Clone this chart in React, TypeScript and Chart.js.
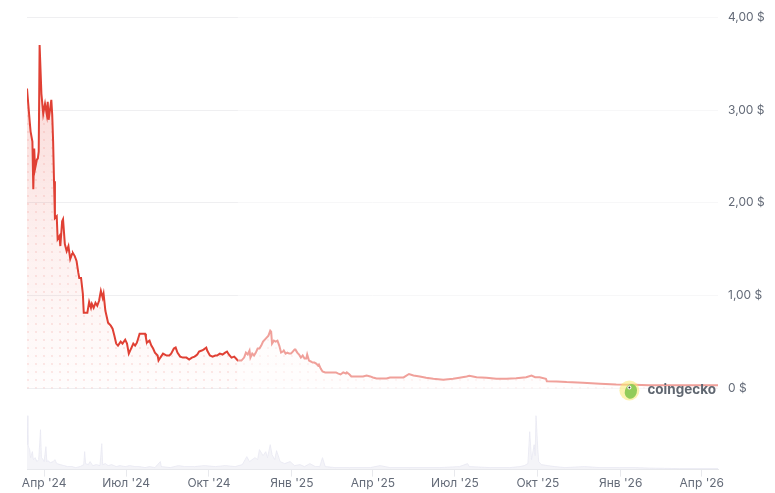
import React, { useEffect, useRef } from 'react';
import { Chart, registerables } from 'chart.js';

Chart.register(...registerables);

// day offsets are counted from START_DATE
const START_DATE = '2024-03-13';
const HIGHLIGHT_END = '2024-11-02';

const priceDays = [
  0, 3, 4, 6, 7, 8, 9, 11, 12, 13, 14, 16, 18, 20, 22, 23, 24, 27, 28, 29,
  30, 31, 33, 34, 36, 37, 39, 40, 42, 44, 46, 48, 50, 51, 53, 55, 57, 58, 60, 62,
  63, 65, 67, 69, 71, 72, 74, 76, 78, 80, 82, 84, 85, 87, 90, 93, 95, 97, 99, 101,
  104, 106, 109, 111, 113, 116, 118, 120, 122, 123, 125, 128, 131, 132, 133, 136, 138, 140, 142, 145,
  146, 148, 151, 152, 155, 158, 160, 163, 165, 167, 170, 173, 177, 180, 183, 186, 189, 191, 194, 196,
  199, 200, 203, 206, 209, 211, 214, 217, 220, 222, 224, 227, 230, 233, 234, 238, 241, 243, 245, 247,
  248, 250, 252, 254, 256, 258, 260, 262, 265, 268, 270, 271, 272, 274, 276, 278, 280, 282, 284, 285,
  287, 289, 291, 293, 295, 297, 298, 300, 302, 304, 306, 308, 310, 311, 313, 315, 317, 319, 321, 323,
  324, 326, 328, 331, 334, 338, 341, 343, 345, 348, 351, 354, 355, 358, 360, 363, 369, 373, 377, 381,
  384, 388, 392, 395, 399, 403, 410, 418, 424, 429, 436, 443, 451, 462, 473, 480, 488, 491, 499, 510,
  521, 532, 543, 554, 560, 564, 569, 576, 577, 588, 599, 617, 636, 654, 673, 691, 728, 767,
];

const prices = [
  3.231, 2.874, 2.767, 2.66, 2.145, 2.584, 2.37, 2.466, 2.477, 2.552, 3.7, 3.174, 2.96, 3.067, 2.949, 3.088, 2.895, 3.11, 2.949, 2.66,
  2.231, 1.834, 1.855, 1.609, 1.641, 1.534, 1.802, 1.823, 1.555, 1.48, 1.534, 1.394, 1.448, 1.458, 1.426, 1.373, 1.244, 1.19, 1.19, 1.019,
  0.815, 0.815, 0.815, 0.933, 0.869, 0.912, 0.869, 0.922, 0.89, 0.944, 1.051, 0.976, 1.019, 0.836, 0.708, 0.676, 0.643, 0.568, 0.483, 0.461,
  0.504, 0.483, 0.525, 0.483, 0.375, 0.44, 0.483, 0.461, 0.493, 0.525, 0.59, 0.59, 0.59, 0.547, 0.493, 0.515, 0.461, 0.429, 0.386, 0.354,
  0.3, 0.332, 0.375, 0.375, 0.354, 0.354, 0.375, 0.429, 0.44, 0.386, 0.343, 0.332, 0.332, 0.311, 0.332, 0.343, 0.365, 0.397, 0.408, 0.418,
  0.44, 0.408, 0.354, 0.343, 0.354, 0.354, 0.375, 0.365, 0.386, 0.397, 0.365, 0.332, 0.343, 0.311, 0.3, 0.3, 0.332, 0.386, 0.365, 0.408,
  0.332, 0.375, 0.354, 0.386, 0.429, 0.429, 0.461, 0.504, 0.536, 0.568, 0.622, 0.611, 0.483, 0.515, 0.504, 0.515, 0.461, 0.386, 0.397, 0.408,
  0.375, 0.386, 0.375, 0.375, 0.397, 0.418, 0.418, 0.386, 0.365, 0.332, 0.354, 0.322, 0.322, 0.365, 0.3, 0.29, 0.279, 0.279, 0.268, 0.247,
  0.257, 0.214, 0.182, 0.172, 0.172, 0.172, 0.172, 0.172, 0.161, 0.15, 0.172, 0.161, 0.172, 0.15, 0.129, 0.129, 0.129, 0.129, 0.139, 0.129,
  0.118, 0.107, 0.107, 0.107, 0.107, 0.118, 0.118, 0.118, 0.155, 0.139, 0.129, 0.115, 0.104, 0.093, 0.104, 0.115, 0.129, 0.136, 0.121, 0.115,
  0.104, 0.104, 0.11, 0.121, 0.139, 0.121, 0.121, 0.104, 0.078, 0.075, 0.068, 0.061, 0.05, 0.043, 0.04, 0.035, 0.035, 0.035,
];

// trading volume, millions USD
const volumeDays = [
  0, 1, 2, 3, 4, 6, 7, 9, 11, 13, 15, 16, 18, 19, 21, 22, 23, 26, 29, 31,
  33, 37, 41, 45, 50, 54, 59, 63, 64, 65, 68, 70, 73, 77, 81, 83, 84, 87, 90, 94,
  99, 103, 109, 114, 120, 125, 131, 136, 142, 148, 149, 159, 168, 175, 186, 197, 209, 220, 231, 239,
  244, 247, 253, 256, 258, 262, 265, 267, 270, 272, 275, 277, 281, 286, 292, 297, 303, 308, 314, 320,
  325, 328, 331, 342, 358, 381, 392, 403, 425, 458, 480, 489, 491, 514, 536, 547, 552, 556, 558, 560,
  563, 564, 565, 567, 568, 571, 578, 586, 597, 619, 636, 658, 675, 691, 724, 767,
];

const volumes = [
  5.4, 2.5, 2.2, 2.0, 1.2, 1.8, 1.0, 1.2, 0.8, 1.0, 4.0, 1.2, 1.0, 0.8, 2.3, 0.8, 0.9, 0.7, 0.8, 1.0,
  0.6, 0.5, 0.4, 0.3, 0.3, 0.2, 0.3, 0.5, 1.8, 0.6, 0.5, 0.8, 0.4, 0.5, 0.4, 2.6, 0.5, 0.6, 0.4, 0.5,
  0.3, 0.4, 0.3, 0.4, 0.3, 0.3, 0.2, 0.3, 0.2, 0.8, 0.3, 0.2, 0.4, 0.3, 0.3, 0.4, 0.3, 0.4, 0.3, 0.5,
  1.3, 0.8, 1.2, 1.0, 2.0, 1.4, 1.8, 1.2, 2.5, 1.5, 1.0, 1.9, 0.8, 0.6, 0.8, 0.4, 0.5, 0.3, 0.6, 0.3,
  0.3, 1.2, 0.3, 0.2, 0.2, 0.2, 0.4, 0.2, 0.2, 0.2, 0.3, 0.6, 0.3, 0.2, 0.2, 0.3, 0.4, 0.6, 3.8, 1.0,
  2.5, 1.4, 5.4, 2.0, 0.8, 0.5, 0.4, 0.3, 0.2, 0.3, 0.2, 0.2, 0.2, 0.15, 0.1, 0.1,
];

const tickDates = [
  '2024-04-01', '2024-07-01', '2024-10-01', '2025-01-01', '2025-04-01',
  '2025-07-01', '2025-10-01', '2026-01-01', '2026-04-01',
];
const tickLabels = [
  "Апр '24", "Июл '24", "Окт '24", "Янв '25", "Апр '25",
  "Июл '25", "Окт '25", "Янв '26", "Апр '26",
];
const priceTicks = [0, 1, 2, 3, 4];

const dayOf = (iso: string) =>
  Math.round((Date.parse(iso) - Date.parse(START_DATE)) / 86400000);

const LINE_COLOR = 'rgb(224, 64, 52)';
const FONT = 'Inter, "Noto Sans", sans-serif';

function makeDotPattern(ctx: CanvasRenderingContext2D) {
  const c = document.createElement('canvas');
  c.width = 8;
  c.height = 8;
  const p = c.getContext('2d')!;
  p.fillStyle = 'rgba(224, 64, 52, 0.16)';
  p.beginPath();
  p.arc(4, 4, 0.9, 0, Math.PI * 2);
  p.fill();
  return ctx.createPattern(c, 'repeat');
}

const fadePlugin = {
  id: 'fadeAfterHighlight',
  afterDatasetsDraw(chart: any) {
    const { ctx, chartArea, scales } = chart;
    const x0 = scales.x.getPixelForValue(dayOf(HIGHLIGHT_END));
    const yb = scales.y.getPixelForValue(0) + 2;
    ctx.save();
    ctx.fillStyle = 'rgba(255, 255, 255, 0.5)';
    ctx.fillRect(x0, chartArea.top - 2, chartArea.right - x0 + 1, yb - chartArea.top + 2);
    ctx.restore();
  },
};

const logoPlugin = {
  id: 'geckoLogo',
  afterDraw(chart: any) {
    const { ctx, chartArea, scales } = chart;
    const y = scales.y.getPixelForValue(0) + 2;
    const right = chartArea.right - 2;
    ctx.save();
    ctx.font = `bold 13.5px ${FONT}`;
    ctx.textAlign = 'right';
    ctx.textBaseline = 'middle';
    ctx.fillStyle = '#5f6670';
    ctx.fillText('coingecko', right, y);
    const w = ctx.measureText('coingecko').width;
    const cx = right - w - 18;
    ctx.fillStyle = 'rgba(248, 232, 110, 0.55)';
    ctx.beginPath();
    ctx.arc(cx, y, 10, 0, Math.PI * 2);
    ctx.fill();
    ctx.fillStyle = '#92cc5a';
    ctx.beginPath();
    ctx.ellipse(cx + 1.5, y + 1, 6, 7.5, 0.3, 0, Math.PI * 2);
    ctx.fill();
    ctx.fillStyle = '#ffffff';
    ctx.beginPath();
    ctx.arc(cx, y - 3, 2, 0, Math.PI * 2);
    ctx.fill();
    ctx.fillStyle = '#333333';
    ctx.beginPath();
    ctx.arc(cx, y - 3, 1, 0, Math.PI * 2);
    ctx.fill();
    ctx.restore();
  },
};

export default function App() {
  const ref = useRef<HTMLCanvasElement>(null);

  useEffect(() => {
    const canvas = ref.current!;
    const ctx = canvas.getContext('2d')!;
    const dots = makeDotPattern(ctx);
    const priceData = priceDays.map((d, i) => ({ x: d, y: prices[i] }));
    const volumeData = volumeDays.map((d, i) => ({ x: d, y: volumes[i] }));
    const maxVol = Math.max(...volumes);

    const chart = new Chart(canvas, {
      type: 'line',
      data: {
        datasets: [
          {
            label: 'Price',
            data: priceData,
            yAxisID: 'y',
            borderColor: LINE_COLOR,
            borderWidth: 2,
            pointRadius: 0,
            tension: 0,
            order: 1,
            fill: 'origin',
            backgroundColor: (c: any) => {
              const { chart: ch } = c;
              const { chartArea, scales } = ch;
              if (!chartArea) return 'rgba(0,0,0,0)';
              const y0 = scales.y.getPixelForValue(0);
              const g = ch.ctx.createLinearGradient(0, chartArea.top, 0, y0);
              g.addColorStop(0, 'rgba(232, 64, 52, 0.24)');
              g.addColorStop(0.6, 'rgba(232, 64, 52, 0.08)');
              g.addColorStop(1, 'rgba(232, 64, 52, 0.01)');
              return g;
            },
          },
          {
            label: 'dots',
            data: priceData,
            yAxisID: 'y',
            borderWidth: 0,
            borderColor: 'rgba(0,0,0,0)',
            pointRadius: 0,
            order: 2,
            fill: 'origin',
            backgroundColor: dots as any,
          },
          {
            label: 'Volume',
            data: volumeData,
            yAxisID: 'y2',
            borderWidth: 1,
            borderColor: 'rgba(232, 233, 242, 0.8)',
            backgroundColor: 'rgba(236, 237, 244, 0.6)',
            pointRadius: 0,
            order: 3,
            fill: 'origin',
          },
        ],
      },
      options: {
        animation: false,
        responsive: false,
        maintainAspectRatio: false,
        layout: { padding: { left: 27, top: 15, right: 0, bottom: 2 } },
        plugins: {
          legend: { display: false },
          tooltip: { enabled: false },
        },
        scales: {
          x: {
            type: 'linear',
            min: 0,
            max: priceDays[priceDays.length - 1],
            afterBuildTicks: (axis: any) => {
              axis.ticks = tickDates.map((d) => ({ value: dayOf(d) }));
            },
            ticks: {
              autoSkip: false,
              maxRotation: 0,
              padding: 0,
              color: '#646b78',
              font: { family: FONT, size: 12 },
              callback: (_v: any, i: number) => tickLabels[i],
            },
            grid: {
              drawOnChartArea: false,
              drawTicks: true,
              tickLength: 7,
              color: '#e8e9ed',
            },
            border: { display: true, color: '#e8e9ed' },
          },
          y: {
            type: 'linear',
            position: 'right',
            min: -0.875,
            max: 4,
            afterBuildTicks: (axis: any) => {
              axis.ticks = priceTicks.map((v) => ({ value: v }));
            },
            afterFit: (axis: any) => {
              axis.width = 57;
            },
            ticks: {
              padding: 10,
              color: '#646b78',
              font: { family: FONT, size: 12 },
              callback: (v: any) =>
                v === 0 ? '0 $' : Number(v).toFixed(2).replace('.', ',') + ' $',
            },
            grid: { drawTicks: false, color: '#efeff1' },
            border: { display: false },
          },
          y2: {
            type: 'linear',
            display: false,
            min: 0,
            max: maxVol * 8.4,
          },
        },
      },
      plugins: [fadePlugin, logoPlugin],
    });

    return () => chart.destroy();
  }, []);

  return (
    <div style={{ position: 'fixed', left: 0, top: 0, width: 775, height: 493, background: '#fff' }}>
      <canvas ref={ref} width={775} height={493} style={{ display: 'block' }} />
    </div>
  );
}
